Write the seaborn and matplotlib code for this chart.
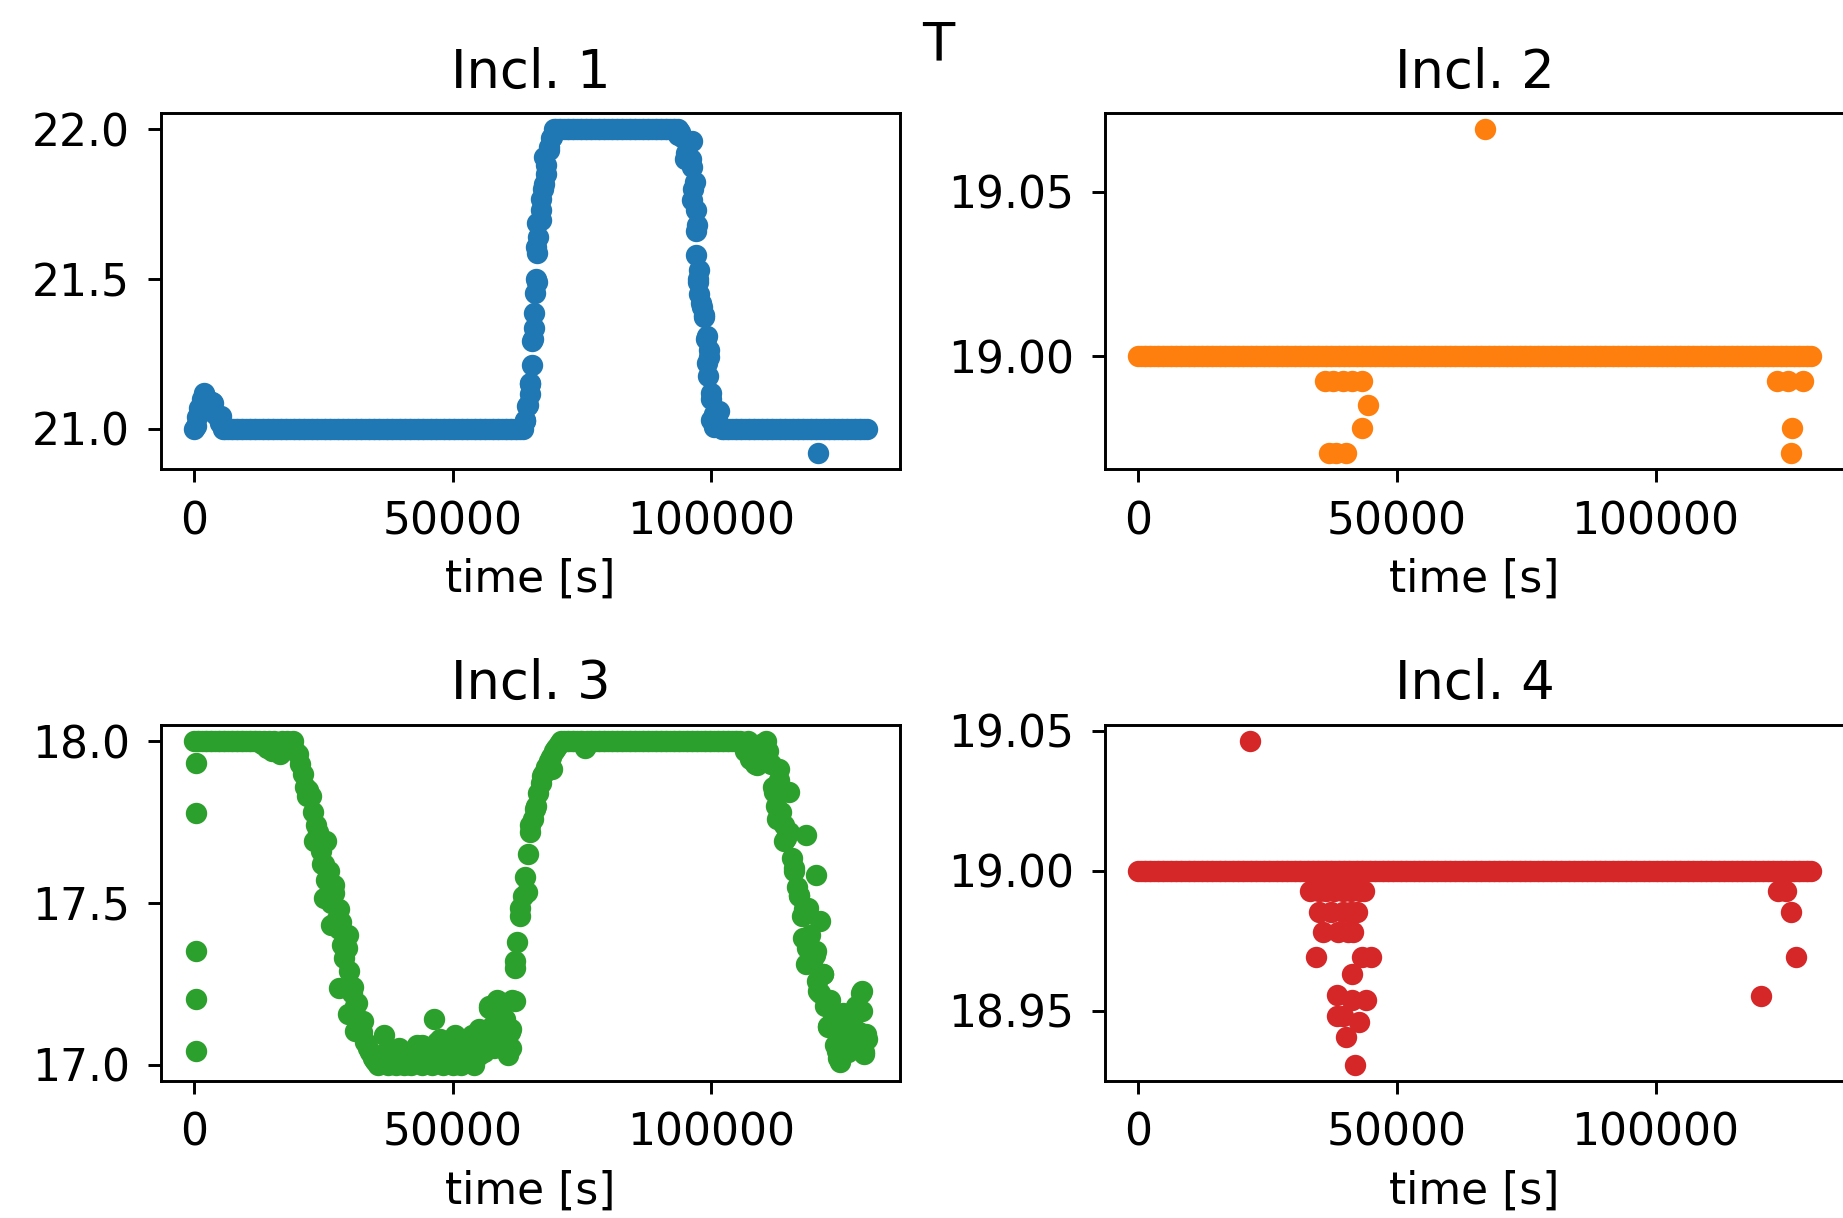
import numpy as np
import pandas as pd
import matplotlib
matplotlib.use("Agg")
import matplotlib.pyplot as plt
import seaborn as sns

# sample clock of the logger (every 500 s)
time_s = np.arange(0, 130001, 500)

# Incl. 1 values on the sample clock
incl1 = ([21.0, 21.04, 21.07, 21.10, 21.11, 21.09, 21.08, 21.09, 21.05, 21.04, 21.02]
         + [21.0] * 117
         + [21.03, 21.08, 21.15, 21.30, 21.50, 21.64, 21.73, 21.80, 21.88, 21.93, 21.97]
         + [22.0] * 49
         + [21.99, 21.97, 21.92, 21.95, 21.90, 21.80, 21.66, 21.50, 21.42, 21.38,
            21.30, 21.24, 21.10, 21.05, 21.03, 21.01]
         + [21.0] * 57)
# extra readings of Incl. 1 (scatter around the ramps + outlier)
incl1_extra_t = [270, 1860, 3550, 5230, 63960, 64430, 64900, 64900, 65370, 65370,
                 65600, 65700, 65830, 66300, 66300, 66000, 66300, 67040, 67040, 67710,
                 68000, 67710, 68650, 69110, 93460, 95340, 96260, 94890, 96260, 96740,
                 96260, 97020, 97200, 97020, 97680, 97400, 97680, 98140, 98600, 99080,
                 99550, 99080, 99300, 100015, 101420, 100015, 100500, 120610]
incl1_extra_v = [21.01, 21.12, 21.087, 21.042, 21.025, 21.075, 21.114, 21.153, 21.214, 21.292,
                 21.336, 21.386, 21.453, 21.491, 21.586, 21.608, 21.686, 21.697, 21.769, 21.819,
                 21.852, 21.907, 21.941, 21.974, 21.98, 21.96, 21.96, 21.90, 21.874, 21.824,
                 21.763, 21.73, 21.68, 21.58, 21.53, 21.49, 21.45, 21.408, 21.374, 21.308,
                 21.264, 21.22, 21.175, 21.12, 21.059, 21.03, 21.005, 20.918]

# Incl. 2
incl2 = [19.0] * 261
incl2_extra_t = [36100, 37680, 39530, 41380, 43230, 44430, 43230, 36930, 38140, 40170,
                 123490, 125620, 128580, 126470, 126270, 67110]
incl2_extra_v = [18.9925, 18.9925, 18.9925, 18.9925, 18.9925, 18.985, 18.978, 18.9705, 18.9705, 18.9705,
                 18.9925, 18.9925, 18.9925, 18.978, 18.9705, 19.069]

# Incl. 3
incl3 = ([18.0] * 26
         + [17.99, 18.0, 17.98, 18.0, 17.97, 18.0, 17.99, 17.96, 18.0, 17.98, 18.0, 17.99, 18.0, 17.97]
         + [17.96, 17.93, 17.90, 17.86, 17.85, 17.83, 17.78, 17.74, 17.72, 17.66,
            17.62, 17.57, 17.60, 17.50, 17.53, 17.45, 17.42, 17.37, 17.33, 17.36,
            17.29, 17.22, 17.18, 17.19, 17.12, 17.10, 17.07, 17.05, 17.04, 17.02, 17.01]
         + [17.0, 17.02, 17.01, 17.04, 17.0, 17.03, 17.01, 17.0, 17.05, 17.02,
            17.0, 17.01, 17.03, 17.0, 17.02, 17.06, 17.01, 17.0, 17.03, 17.01,
            17.04, 17.0, 17.02, 17.07, 17.01, 17.0, 17.03, 17.05, 17.01, 17.0,
            17.02, 17.04, 17.0, 17.03, 17.01, 17.06, 17.02, 17.0, 17.04, 17.03, 17.05]
         + [17.04, 17.08, 17.18, 17.12, 17.05, 17.20, 17.10, 17.06, 17.14, 17.04,
            17.10, 17.20, 17.30, 17.38, 17.46, 17.52, 17.58, 17.65, 17.72, 17.76,
            17.80, 17.84, 17.87, 17.90, 17.92, 17.94, 17.95, 17.97, 17.98, 17.99, 18.0, 18.0]
         + [18.0] * 7 + [17.98] + [18.0] * 60
         + [17.99, 17.97, 18.0, 17.95, 17.98, 17.93, 17.96, 17.99, 17.97, 18.0,
            17.97, 17.93, 17.86, 17.80, 17.88, 17.78, 17.74, 17.70, 17.72, 17.64,
            17.60, 17.55, 17.52, 17.46, 17.48, 17.36, 17.40, 17.32, 17.34, 17.26,
            17.22, 17.28, 17.18, 17.12, 17.20, 17.14, 17.06, 17.02, 17.10, 17.16,
            17.08, 17.04, 17.12, 17.06, 17.18, 17.10, 17.22, 17.04, 17.08])
incl3_extra_t = [270, 270, 270, 270, 270,
                 21820, 23220, 24620, 25100, 26500, 27900, 28380, 29770, 29770, 30710,
                 31170, 32590, 27900, 26960, 25560,
                 36620, 46440, 50370, 47570, 53650, 55070, 44000, 41000,
                 56000, 56940, 58800, 61160, 61160, 60680, 62080, 62080, 63030, 64430,
                 64900, 65830, 67230, 69110, 75660,
                 107510, 108910, 112200, 113120, 112660, 115000, 118280, 114060, 115940, 120150,
                 116880, 118750, 121090, 117810, 120150, 118280, 121550, 120610, 122490, 129040,
                 122490, 129040, 123900, 129980, 124370, 124830, 129510, 126240, 128100, 127180]
incl3_extra_v = [17.932, 17.778, 17.351, 17.202, 17.043,
                 17.83, 17.69, 17.62, 17.515, 17.433, 17.238, 17.44, 17.40, 17.156, 17.24,
                 17.105, 17.135, 17.48, 17.556, 17.69,
                 17.09, 17.14, 17.09, 17.08, 17.09, 17.11, 17.06, 17.04,
                 17.07, 17.176, 17.197, 17.11, 17.05, 17.03, 17.197, 17.32, 17.484, 17.535,
                 17.74, 17.79, 17.894, 17.915, 17.986,
                 17.946, 17.925, 17.843, 17.915, 17.76, 17.843, 17.71, 17.69, 17.607, 17.587,
                 17.525, 17.484, 17.443, 17.392, 17.351, 17.31, 17.279, 17.228, 17.197, 17.228,
                 17.115, 17.166, 17.125, 17.094, 17.043, 17.008, 17.033, 17.074, 17.084, 17.135]

# Incl. 4
incl4 = [19.0] * 261
incl4_extra_t = [33230, 34890, 36280, 37860, 39530, 41190, 42770, 43690,
                 34890, 37220, 39530, 41190, 42300,
                 35640, 38600, 40450, 41560,
                 34340, 43230, 44890,
                 41370, 38320, 41370, 43970, 38420, 39530, 42580, 40080, 41920,
                 123770, 125150, 126270, 127100, 120430, 21470]
incl4_extra_v = [18.9928] * 8 + [18.9851] * 5 + [18.978] * 4 + [18.9693] * 3 + \
                [18.963, 18.9557, 18.954, 18.954, 18.948, 18.948, 18.946, 18.9408, 18.9308,
                 18.9928, 18.9928, 18.9851, 18.9693, 18.9553, 19.0462]

titles = ["Incl. 1", "Incl. 2", "Incl. 3", "Incl. 4"]
colors = ["#1f77b4", "#ff7f0e", "#2ca02c", "#d62728"]
yticks = [[21.0, 21.5, 22.0], [19.00, 19.05], [17.0, 17.5, 18.0], [18.95, 19.00, 19.05]]
xticks = [0, 50000, 100000]

series = [(incl1, incl1_extra_t, incl1_extra_v),
          (incl2, incl2_extra_t, incl2_extra_v),
          (incl3, incl3_extra_t, incl3_extra_v),
          (incl4, incl4_extra_t, incl4_extra_v)]

plt.rcParams["font.size"] = 12
plt.rcParams["xtick.major.pad"] = 4.9
plt.rcParams["ytick.major.pad"] = 4.9
fig = plt.figure(figsize=(1843 / 264, 1218 / 264), dpi=264)

# axes positions [left, bottom, width, height] in figure fractions
pos = [[0.0872, 0.6147, 0.4012, 0.2923],
       [0.5995, 0.6147, 0.4012, 0.2923],
       [0.0872, 0.1127, 0.4012, 0.2920],
       [0.5995, 0.1127, 0.4012, 0.2920]]

for k in range(4):
    vals, ex_t, ex_v = series[k]
    df = pd.DataFrame({"t": np.concatenate([time_s, ex_t]),
                       "v": np.concatenate([vals, ex_v])})
    ax = fig.add_axes(pos[k])
    sns.scatterplot(data=df, x="t", y="v", ax=ax, color=colors[k], s=34, linewidth=0)
    ax.set_title(titles[k], pad=7)
    ax.set_xlabel("time [s]")
    ax.set_ylabel("")
    ax.set_xticks(xticks)
    ax.set_yticks(yticks[k])

fig.text(0.509, 1 - 60 / 1218, "T", ha="center", va="baseline", fontsize=14.4)

plt.savefig("out.png", dpi=264)
